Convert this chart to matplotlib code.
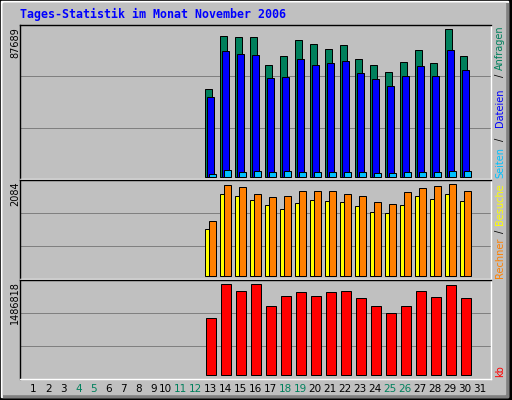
import matplotlib
matplotlib.use("Agg")
import matplotlib.pyplot as plt
from matplotlib.patches import Rectangle

W, H = 512, 400

# daily values, 13.-30. November (earlier days and the 31st have no data)
days = list(range(13, 31))
all_days = list(range(1, 32))
weekend = [4, 5, 11, 12, 18, 19, 25, 26]

hits = [51980, 83525, 82930, 82930, 66264, 71620, 81145, 78764, 75788,
        78169, 69835, 66264, 62098, 68050, 75193, 67455, 87689, 71620]
files = [47218, 74597, 72811, 72216, 58527, 59122, 69835, 66264, 67455,
         68645, 61503, 57932, 53766, 59717, 65669, 59717, 75193, 63289]
pages = [1984, 4365, 3174, 3769, 3174, 3769, 3174, 3174, 3174,
         3174, 3174, 2579, 2579, 3174, 3174, 3174, 3769, 3769]
visits = [1065, 1857, 1812, 1722, 1608, 1518, 1654, 1722, 1699,
          1676, 1586, 1450, 1427, 1608, 1812, 1744, 1857, 1699]
sites = [1246, 2061, 2016, 1857, 1790, 1812, 1925, 1925, 1925,
         1857, 1812, 1676, 1631, 1903, 1993, 2039, 2084, 1925]
kbytes = [931311, 1486818, 1372447, 1486818, 1127378, 1290766, 1356123,
          1290766, 1356123, 1372447, 1258092, 1127378, 1013005, 1127378,
          1372447, 1274430, 1470479, 1258092]

BG = "#C0C0C0"
C_HITS, C_FILES, C_PAGES = "#00805C", "#0000FF", "#00C0FF"
C_VISITS, C_SITES, C_KB = "#FFFF00", "#FF8000", "#FF0000"
PX = 0.72  # one pixel in points at dpi 100


def fx(x):
    return x / W


def fy(y):
    return 1 - y / H


fig = plt.figure(figsize=(W / 100, H / 100), dpi=100)
fig.patch.set_facecolor("black")

# bevelled frame
def frame(x0, y0, x1, y1, color):
    fig.patches.append(Rectangle((fx(x0), fy(y1)), fx(x1 - x0), (y1 - y0) / H,
                                 transform=fig.transFigure, color=color, zorder=-10))

frame(1, 1, 508, 397, "white")
frame(3, 3, 508, 397, "#808080")
frame(3, 3, 505, 394, BG)

fig.text(fx(20), fy(14.5), "Tages-Statistik im Monat November 2006", color="#0000FF",
         family="DejaVu Sans Mono", weight="bold", fontsize=8.4, ha="left", va="center")


def panel(top, bottom, base, peak, vmax):
    ax = fig.add_axes([fx(20), fy(bottom), fx(491 - 20), (bottom - top) / H])
    ax.set_facecolor(BG)
    s = vmax / (base - peak)
    ax.set_ylim(-(bottom - base) * s, (base - top) * s)
    ax.set_xlim(0.147, 31.55)
    for f in (1 / 3, 2 / 3):
        ax.plot([0, 1], [f, f], transform=ax.transAxes, color="#808080", lw=PX, zorder=0)
    ax.set_xticks([])
    ax.set_yticks([])
    for side, col in (("top", "black"), ("left", "black"), ("bottom", "white"), ("right", "white")):
        ax.spines[side].set_color(col)
        ax.spines[side].set_linewidth(PX * 1.4)
    return ax


ax1 = panel(25, 179, 177, 29, max(hits))
ax2 = panel(180, 279, 276.3, 184.3, max(sites))
ax3 = panel(280, 378.7, 375.3, 284.3, max(kbytes))

x0 = [d - 0.5 for d in days]
bw = 7 / 15
kw = dict(align="edge", edgecolor="black", linewidth=PX, zorder=2)
ax1.bar(x0, hits, bw, color=C_HITS, **kw)
ax1.bar([x + 2 / 15 for x in x0], files, bw, color=C_FILES, **kw)
ax1.bar([x + 4 / 15 for x in x0], pages, bw, color=C_PAGES, **kw)
ax2.bar(x0, visits, bw, color=C_VISITS, **kw)
ax2.bar([x + 4 / 15 for x in x0], sites, bw, color=C_SITES, **kw)
ax3.bar([x + 1 / 15 for x in x0], kbytes, 10 / 15, color=C_KB, **kw)

# day labels
tr = ax3.get_xaxis_transform()
for d in all_days:
    col = C_HITS if d in weekend else "black"
    ax3.text(d - 0.5 + 11.3 / 15, -(389 - 378.7) / 98.7, str(d), transform=tr,
             ha="right", va="center", fontsize=7.5, color=col)

# max values on the left
for y, val in ((27, max(hits)), (181, max(sites)), (281, max(kbytes))):
    fig.text(fx(15), fy(y), str(val), rotation=90, ha="center", va="top", fontsize=7)

# legend texts on the right
legend = [("Anfragen", C_HITS, 48), ("/", "black", 75), ("Dateien", C_FILES, 108),
          ("/", "black", 139), ("Seiten", C_PAGES, 163), ("Besuche", C_VISITS, 204),
          ("/", "black", 231), ("Rechner", C_SITES, 258), ("kb", C_KB, 371)]
for txt, col, y in legend:
    fig.text(fx(500), fy(y), txt, rotation=90, ha="center", va="center",
             fontsize=7, color=col)

fig.savefig("out.png", dpi=100, facecolor=fig.get_facecolor())
